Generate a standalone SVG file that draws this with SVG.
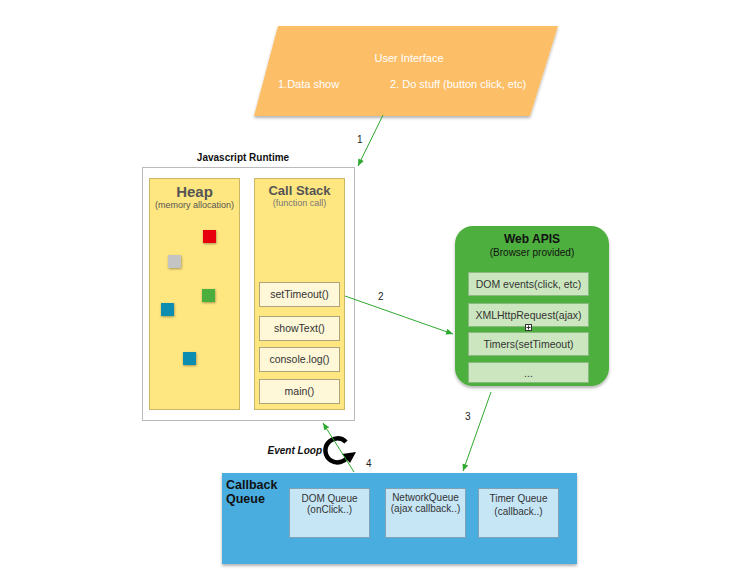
<svg xmlns="http://www.w3.org/2000/svg" width="729" height="578" viewBox="0 0 729 578">
<defs>
<filter id="sh" x="-10%" y="-10%" width="120%" height="130%"><feDropShadow dx="0" dy="2" stdDeviation="1.5" flood-color="#000" flood-opacity="0.3"/></filter>
<filter id="sh2" x="-20%" y="-20%" width="150%" height="150%"><feDropShadow dx="0.5" dy="1" stdDeviation="0.8" flood-color="#000" flood-opacity="0.35"/></filter>
<marker id="ah" markerWidth="8" markerHeight="8" refX="7" refY="4" orient="auto" markerUnits="userSpaceOnUse"><path d="M0,1 L7,4 L0,7 z" fill="#2EA82E"/></marker>
</defs>
<style>
text{font-family:"Liberation Sans",Arial,sans-serif}
.ui{fill:#fff;font-size:11px}
.conn line{stroke:#2EA82E;stroke-width:1}
.num{font-size:10px;fill:#222}
.panel{fill:#FEE680;stroke:#C9B765;stroke-width:1}
.item{fill:#FEF7D8;stroke:#AFA37C;stroke-width:1}
.itxt{font-size:10.5px;fill:#333;text-anchor:middle}
.wa{fill:#D3EAC8;stroke:#8FB884;stroke-width:1;opacity:0.95}
.watx{font-size:10.5px;fill:#333;text-anchor:middle}
.q{fill:#C6E6F6;stroke:#7FA3B5;stroke-width:1}
.qt{font-size:10px;fill:#333;text-anchor:middle}
</style>
<rect width="729" height="578" fill="#fff"/>

<g id="user-interface">
<polygon points="278,26 558,26 530,116 254,116" fill="#FDBE67" filter="url(#sh)"/>
<text class="ui" x="409" y="62" text-anchor="middle">User Interface</text>
<text class="ui" x="278" y="88">1.Data show</text>
<text class="ui" x="390" y="88">2. Do stuff (button click, etc)</text>
</g>

<g id="javascript-runtime">
<text x="243" y="161" text-anchor="middle" font-size="10" font-weight="bold" fill="#111">Javascript Runtime</text>
<rect x="142.5" y="167.5" width="212" height="253" fill="#fff" stroke="#BBBBBB" stroke-width="1"/>
</g>

<g id="heap">
<rect class="panel" x="149.5" y="178.5" width="90" height="231"/>
<text x="194.5" y="197" text-anchor="middle" font-size="15" font-weight="bold" fill="#555">Heap</text>
<text x="194.5" y="208" text-anchor="middle" font-size="9" fill="#555">(memory allocation)</text>
<g filter="url(#sh2)">
<rect x="203" y="230" width="13" height="13" fill="#E8000B"/>
<rect x="168" y="255" width="13" height="13" fill="#C4C4C4"/>
<rect x="202" y="289" width="13" height="13" fill="#4CAF3E"/>
<rect x="161" y="303" width="13" height="13" fill="#0A8DB0"/>
<rect x="183" y="352" width="13" height="13" fill="#0A8DB0"/>
</g>
</g>

<g id="call-stack">
<rect class="panel" x="254.5" y="178.5" width="90" height="231"/>
<text x="299.5" y="195" text-anchor="middle" font-size="13" font-weight="bold" fill="#555">Call Stack</text>
<text x="299.5" y="206" text-anchor="middle" font-size="9" fill="#777">(function call)</text>
</g>
<g id="setTimeout"><rect class="item" x="259.5" y="282.5" width="80" height="24"/><text class="itxt" x="299.5" y="298">setTimeout()</text></g>
<g id="showText"><rect class="item" x="259.5" y="316.5" width="80" height="24"/><text class="itxt" x="299.5" y="332">showText()</text></g>
<g id="console-log"><rect class="item" x="259.5" y="347.5" width="80" height="24"/><text class="itxt" x="299.5" y="363">console.log()</text></g>
<g id="main"><rect class="item" x="259.5" y="379.5" width="80" height="24"/><text class="itxt" x="299.5" y="395">main()</text></g>

<g id="web-apis">
<rect x="455" y="226" width="154" height="160" rx="18" fill="#4DAF3C" filter="url(#sh)"/>
<text x="532" y="243" text-anchor="middle" font-size="12" font-weight="bold" fill="#111">Web APIS</text>
<text x="532" y="256" text-anchor="middle" font-size="10" fill="#111">(Browser provided)</text>
<rect class="wa" x="468.5" y="272.5" width="120" height="23"/>
<text class="watx" x="528.5" y="288">DOM events(click, etc)</text>
<rect class="wa" x="468.5" y="303.5" width="120" height="23"/>
<text class="watx" x="528.5" y="319">XMLHttpRequest(ajax)</text>
<rect class="wa" x="468.5" y="332.5" width="120" height="23"/>
<text class="watx" x="528.5" y="348">Timers(setTimeout)</text>
<rect class="wa" x="468.5" y="362.5" width="120" height="20"/>
<text class="watx" x="528.5" y="377" font-size="8" fill="#666">...</text>
<rect x="525.5" y="324.5" width="6" height="6" fill="#fff" stroke="#333" stroke-width="1"/>
<path d="M528.5,325.5 V329.5 M526.5,327.5 H530.5" stroke="#333" stroke-width="1"/>
</g>

<g id="callback-queue">
<rect x="222" y="473" width="355" height="91" fill="#48ADE0" filter="url(#sh)"/>
<text x="226" y="489" font-size="12.5" font-weight="bold" fill="#111">Callback</text>
<text x="226" y="503" font-size="12.5" font-weight="bold" fill="#111">Queue</text>
</g>
<g id="dom-queue"><rect class="q" x="289.5" y="488.5" width="80" height="49"/><text class="qt" x="329.5" y="502">DOM Queue</text><text class="qt" x="329.5" y="513" font-size="9">(onClick..)</text></g>
<g id="network-queue"><rect class="q" x="385.5" y="488.5" width="80" height="49"/><text class="qt" x="425.5" y="501" font-size="9.5">NetworkQueue</text><text class="qt" x="425.5" y="512" font-size="9">(ajax callback..)</text></g>
<g id="timer-queue"><rect class="q" x="478.5" y="488.5" width="80" height="49"/><text class="qt" x="518.5" y="502" font-size="10.5">Timer Queue</text><text class="qt" x="518.5" y="515" font-size="10.5">(callback..)</text></g>

<g id="event-loop">
<text x="322" y="454" text-anchor="end" font-size="10" font-weight="bold" font-style="italic" fill="#111">Event Loop</text>
<path d="M346,442 A12,12 0 1 0 348,456" fill="none" stroke="#000" stroke-width="4.5"/>
<polygon points="342,454 356,452 350,463" fill="#000"/>
</g>

<g class="conn" id="connectors">
<line x1="383" y1="115" x2="358" y2="166" marker-end="url(#ah)"/>
<text class="num" x="357" y="143">1</text>
<line x1="345" y1="296" x2="453" y2="334" marker-end="url(#ah)"/>
<text class="num" x="378" y="300">2</text>
<line x1="491" y1="392" x2="463" y2="471" marker-end="url(#ah)"/>
<text class="num" x="465" y="420">3</text>
<line x1="354" y1="472" x2="323" y2="423" marker-end="url(#ah)"/>
<text class="num" x="366" y="467">4</text>
</g>
</svg>
